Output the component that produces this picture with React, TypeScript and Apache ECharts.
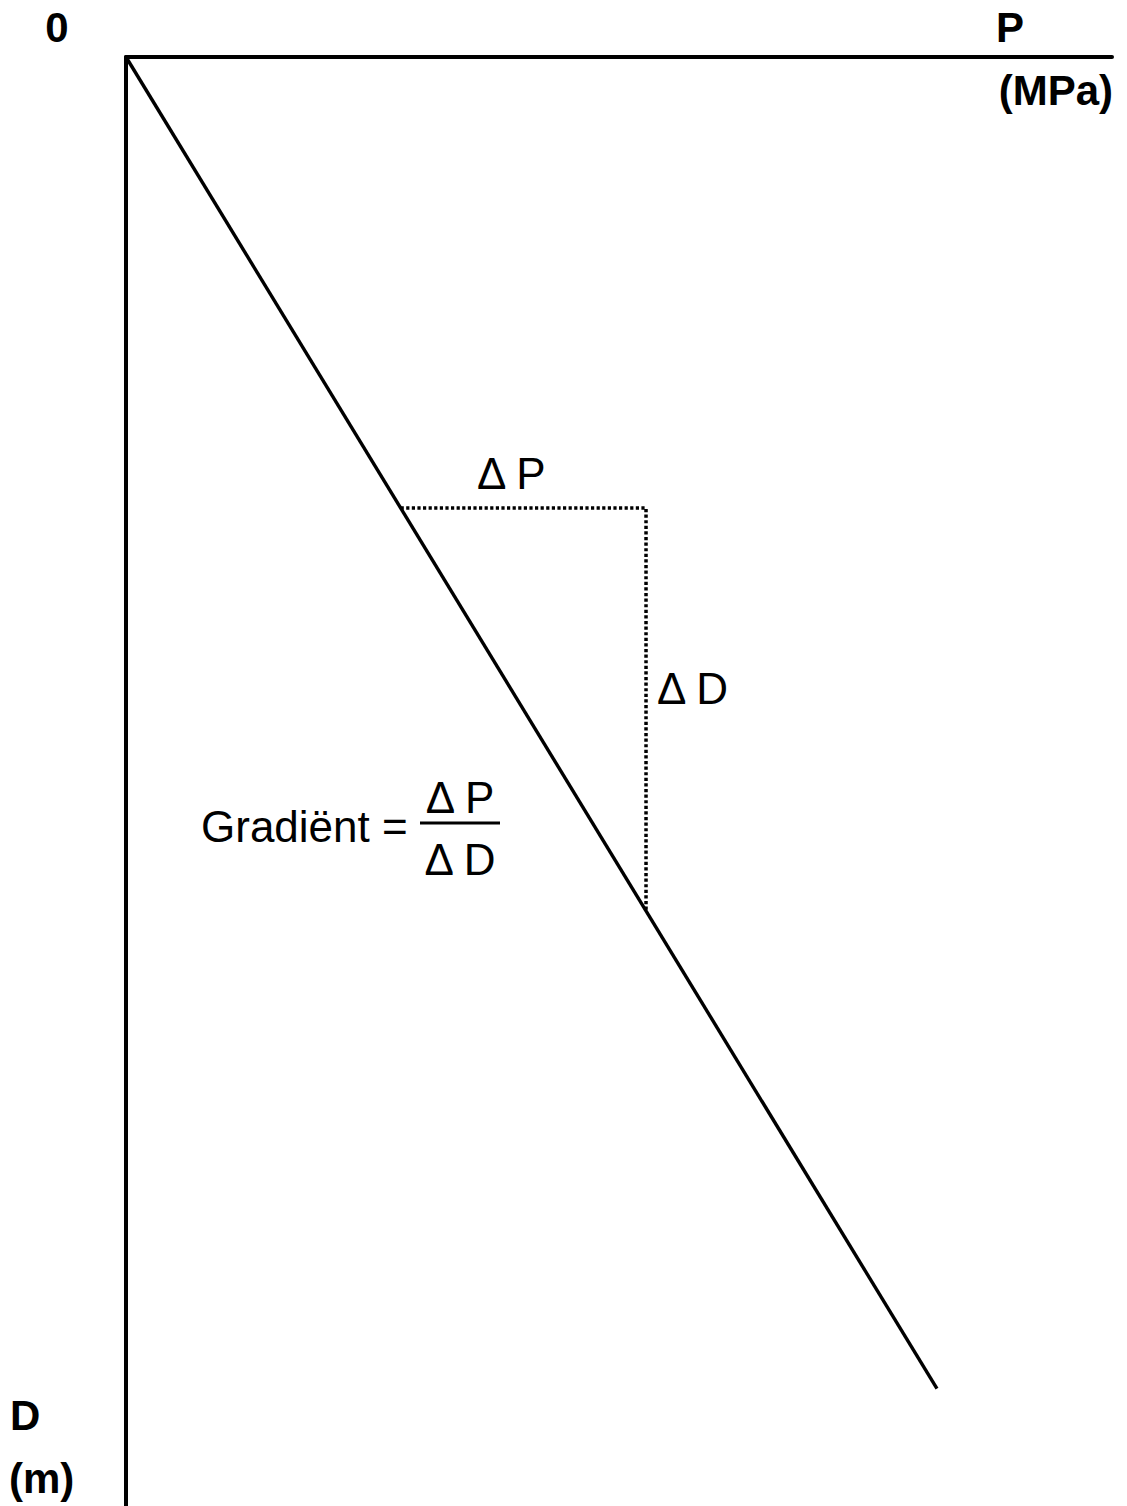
import React, { useEffect, useRef } from "react";
import * as echarts from "echarts";

// Pressure (P, MPa) vs depth (D, m) — schematic gradient line
const lineP = [0, 82.25];
const lineD = [0, 135.1];
// Dotted gradient triangle (ΔP horizontal leg, ΔD vertical leg)
const triP = [27.85, 52.74, 52.74];
const triD = [45.75, 45.75, 86.6];

const axisP = { min: 0, max: 100 };
const axisD = { min: 0, max: 147 };

const FONT = "'Liberation Sans', Arial, sans-serif";

export default function App() {
  const ref = useRef<HTMLDivElement>(null);
  useEffect(() => {
    if (!ref.current) return;
    const chart = echarts.init(ref.current, undefined, { renderer: "svg" });
    const boldText = (text: string, x: number, y: number, align: string) => ({
      type: "text",
      x,
      y,
      style: {
        text,
        fontFamily: FONT,
        fontSize: 42,
        fontWeight: "bold",
        fill: "#000",
        textAlign: align,
        textVerticalAlign: "middle",
      },
    });
    const normText = (text: string, x: number, y: number, align: string) => ({
      type: "text",
      x,
      y,
      style: {
        text,
        fontFamily: FONT,
        fontSize: 44,
        fill: "#000",
        textAlign: align,
        textVerticalAlign: "middle",
      },
    });
    chart.setOption({
      animation: false,
      backgroundColor: "#fff",
      grid: { left: 126, top: 57, right: 15, bottom: 0, containLabel: false },
      xAxis: {
        type: "value",
        position: "top",
        min: axisP.min,
        max: axisP.max,
        axisLine: { show: true, onZero: false, lineStyle: { color: "#000", width: 4 } },
        axisTick: { show: false },
        axisLabel: { show: false },
        splitLine: { show: false },
      },
      yAxis: {
        type: "value",
        inverse: true,
        min: axisD.min,
        max: axisD.max,
        axisLine: { show: true, onZero: false, lineStyle: { color: "#000", width: 4 } },
        axisTick: { show: false },
        axisLabel: { show: false },
        splitLine: { show: false },
      },
      series: [
        {
          type: "line",
          data: lineP.map((p, i) => [p, lineD[i]]),
          symbol: "none",
          lineStyle: { color: "#000", width: 3.4 },
          silent: true,
        },
        {
          type: "line",
          data: triP.map((p, i) => [p, triD[i]]),
          symbol: "none",
          lineStyle: { color: "#000", width: 3.5, type: [3.2, 2.4], cap: "butt", join: "miter" },
          silent: true,
        },
      ],
      graphic: [
        boldText("0", 57, 27, "center"),
        boldText("P", 1010, 27, "center"),
        boldText("(MPa)", 1113, 90, "right"),
        boldText("D", 10, 1415, "left"),
        boldText("(m)", 9, 1478, "left"),
        normText("Δ P", 477, 473, "left"),
        normText("Δ D", 657, 688, "left"),
        normText("Gradiënt =", 201, 826, "left"),
        normText("Δ P", 460, 797, "center"),
        normText("Δ D", 460, 859, "center"),
        {
          type: "line",
          shape: { x1: 420, y1: 823, x2: 500, y2: 823 },
          style: { stroke: "#000", lineWidth: 3 },
        },
      ],
    });
    return () => chart.dispose();
  }, []);
  return (
    <div
      ref={ref}
      style={{ position: "absolute", left: 0, top: 0, width: 1127, height: 1506, background: "#fff" }}
    />
  );
}
